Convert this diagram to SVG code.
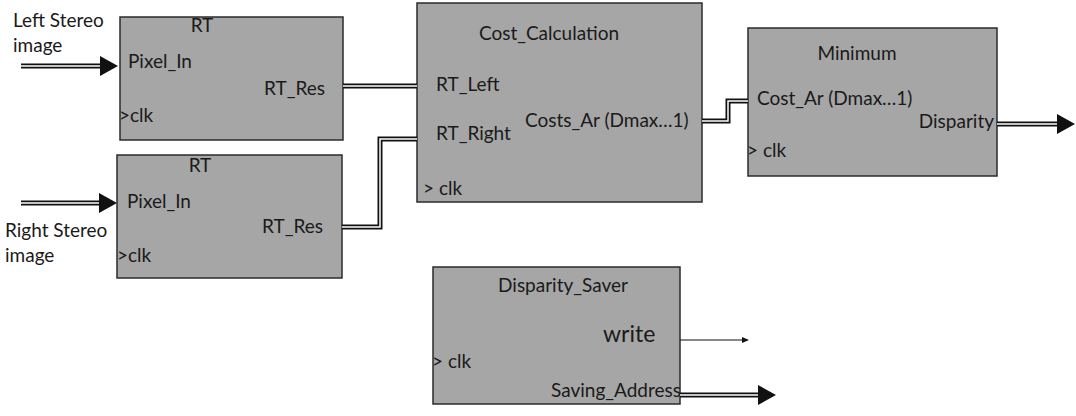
<svg xmlns="http://www.w3.org/2000/svg" width="1076" height="416" viewBox="0 0 1076 416">
<style>
  .blk { fill: #a6a6a6; stroke: #2b2b2b; stroke-width: 1.5; }
  text { font-family: Lato, "Liberation Sans", sans-serif; font-size: 19px; fill: #1a1a1a; }
  .bus { fill: none; stroke: #111; stroke-width: 5; }
  .gap { fill: none; stroke: #fff; stroke-width: 1.5; }
  .thin { fill: none; stroke: #111; stroke-width: 1.2; }
  .mid { text-anchor: middle; }
  .end { text-anchor: end; }
</style>
<defs>
  <marker id="bigArrow" markerUnits="userSpaceOnUse" markerWidth="20" markerHeight="21" refX="0" refY="10" orient="auto">
    <path d="M0,0 L18,10 L0,20 z" fill="#111"/>
  </marker>
  <marker id="smallArrow" markerUnits="userSpaceOnUse" markerWidth="8" markerHeight="8" refX="0" refY="3" orient="auto">
    <path d="M0,0 L7,3 L0,6 z" fill="#111"/>
  </marker>
</defs>
<rect x="0" y="0" width="1076" height="416" fill="#fff"/>

<g id="labels-inputs">
  <text x="13" y="27">Left Stereo</text>
  <text x="13" y="52">image</text>
  <text x="5" y="237">Right Stereo</text>
  <text x="5" y="262">image</text>
</g>

<g id="rt1">
  <rect class="blk" x="120" y="17" width="223" height="123"/>
  <text class="mid" x="202" y="32">RT</text>
  <text x="128" y="68">Pixel_In</text>
  <text x="264" y="95">RT_Res</text>
  <text x="119" y="122">&gt;clk</text>
</g>

<g id="rt2">
  <rect class="blk" x="117" y="155" width="225" height="123"/>
  <text class="mid" x="200" y="172">RT</text>
  <text x="127" y="208">Pixel_In</text>
  <text x="262" y="233">RT_Res</text>
  <text x="117" y="262">&gt;clk</text>
</g>

<g id="cost-calculation">
  <rect class="blk" x="417" y="3" width="285" height="199"/>
  <text class="mid" x="549" y="40">Cost_Calculation</text>
  <text x="436" y="91">RT_Left</text>
  <text x="436" y="140">RT_Right</text>
  <text x="525" y="127">Costs_Ar (Dmax…1)</text>
  <text x="423" y="195">&gt; clk</text>
</g>

<g id="minimum">
  <rect class="blk" x="748" y="28" width="249" height="148"/>
  <text class="mid" x="857" y="60">Minimum</text>
  <text x="757" y="105">Cost_Ar (Dmax…1)</text>
  <text class="end" x="994" y="128">Disparity</text>
  <text x="747" y="157">&gt; clk</text>
</g>

<g id="disparity-saver">
  <rect class="blk" x="433" y="267" width="247" height="137"/>
  <text class="mid" x="563" y="292">Disparity_Saver</text>
  <text x="603" y="342" style="font-size:23px">write</text>
  <text x="432" y="368">&gt; clk</text>
  <text class="end" x="681" y="397">Saving_Address</text>
</g>

<g id="connectors">
  <path class="bus" d="M21,66 H100" marker-end="url(#bigArrow)"/>
  <path class="gap" d="M21,66 H100"/>
  <path class="bus" d="M21,203 H99" marker-end="url(#bigArrow)"/>
  <path class="gap" d="M21,203 H99"/>
  <path class="bus" d="M343,86 H417"/>
  <path class="gap" d="M343,86 H417"/>
  <path class="bus" d="M342,227 H380 V139 H417"/>
  <path class="gap" d="M342,227 H380 V139 H417"/>
  <path class="bus" d="M702,121 H728 V101 H748"/>
  <path class="gap" d="M702,121 H728 V101 H748"/>
  <path class="bus" d="M997,124 H1057" marker-end="url(#bigArrow)"/>
  <path class="gap" d="M997,124 H1057"/>
  <path class="bus" d="M680,395 H758" marker-end="url(#bigArrow)"/>
  <path class="gap" d="M680,395 H758"/>
  <path class="thin" d="M680,340 H742" marker-end="url(#smallArrow)"/>
</g>
</svg>
